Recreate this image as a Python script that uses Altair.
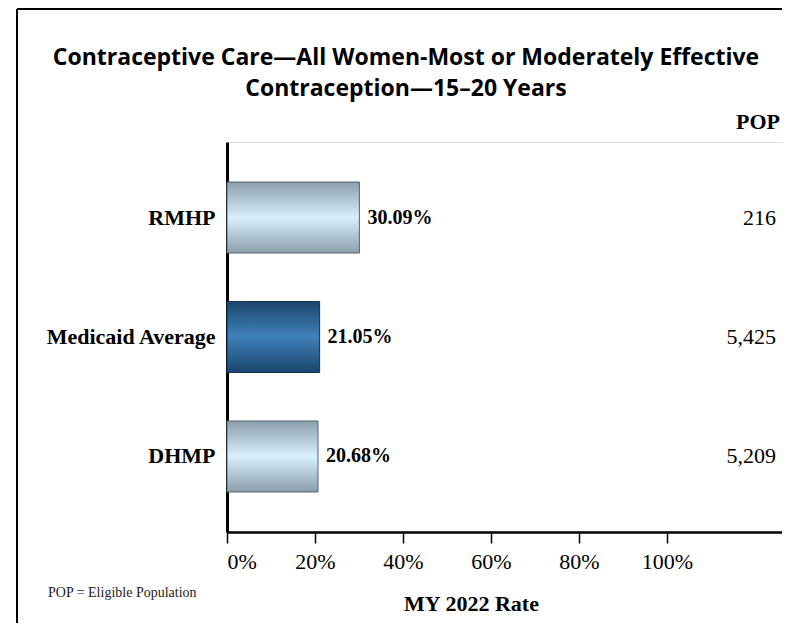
import altair as alt
import pandas as pd

# ---- data ----
categories = ["RMHP", "Medicaid Average", "DHMP"]
rates = [0.3009, 0.2105, 0.2068]
rate_labels = ["30.09%", "21.05%", "20.68%"]
pops = ["216", "5,425", "5,209"]
is_average = [False, True, False]
x_ticks = [0, 0.2, 0.4, 0.6, 0.8, 1.0]
title_lines = ["Contraceptive Care\u2014All Women-Most or Moderately Effective",
               "Contraception\u201415\u201320 Years"]
x_title = "MY 2022 Rate"
pop_header = "POP"
footnote = "POP = Eligible Population"

df = pd.DataFrame({
    "category": categories,
    "rate": rates,
    "label": rate_labels,
    "pop": pops,
    "avg": is_average,
})
one = pd.DataFrame({"k": [0]})

W, H = 555, 390
PX_PER_UNIT = 440
SERIF = "Liberation Serif"

x_scale = alt.Scale(domain=[0, W / PX_PER_UNIT], nice=False, zero=True)
y_scale = alt.Scale(paddingInner=0.406, paddingOuter=0.335)

x_enc = alt.X("rate:Q", scale=x_scale, axis=alt.Axis(
    values=x_ticks, format=".0%", grid=False,
    labelFont=SERIF, labelFontSize=22, labelColor="black", labelPadding=8,
    tickColor="black", tickSize=11, tickWidth=1.5,
    domainColor="black", domainWidth=2.5,
    title=x_title, titleFont=SERIF, titleFontSize=22, titleFontWeight="bold",
    titleColor="black", titleX=244, titleY=71, titleAlign="center",
    titleBaseline="middle", titleAnchor="start"))
y_enc = alt.Y("category:N", sort=categories, scale=y_scale, axis=alt.Axis(
    title=None, grid=False, ticks=False, labelFont=SERIF, labelFontSize=22,
    labelFontWeight="bold", labelColor="black", labelPadding=12,
    domainColor="black", domainWidth=3))

light = alt.Gradient(gradient="linear", x1=0, x2=0, y1=0, y2=1, stops=[
    alt.GradientStop(color="#8b9eab", offset=0),
    alt.GradientStop(color="#d8f0fc", offset=0.5),
    alt.GradientStop(color="#8b9eab", offset=1)])
dark = alt.Gradient(gradient="linear", x1=0, x2=0, y1=0, y2=1, stops=[
    alt.GradientStop(color="#1b466e", offset=0),
    alt.GradientStop(color="#3f80b9", offset=0.5),
    alt.GradientStop(color="#1b466e", offset=1)])

base = alt.Chart(df)

bars_light = base.transform_filter("!datum.avg").mark_bar(
    color=light, stroke="#56646e", strokeWidth=1).encode(x=x_enc, y=y_enc)
bars_dark = base.transform_filter("datum.avg").mark_bar(
    color=dark, stroke="#14324f", strokeWidth=1).encode(x=x_enc, y=y_enc)

value_text = base.mark_text(align="left", baseline="middle", dx=8,
                            font=SERIF, fontSize=20, fontWeight="bold",
                            color="black").encode(
    x="rate:Q", y=alt.Y("category:N", sort=categories), text="label:N")

pop_text = base.mark_text(align="right", baseline="middle", font=SERIF,
                          fontSize=22, color="black").encode(
    x=alt.value(W - 6), y=alt.Y("category:N", sort=categories), text="pop:N")

pop_head = alt.Chart(one).mark_text(align="right", baseline="middle", font=SERIF,
                                    fontSize=22, fontWeight="bold", color="black",
                                    text=pop_header).encode(
    x=alt.value(W - 2), y=alt.value(-20))

foot = alt.Chart(one).mark_text(align="left", baseline="middle", font=SERIF,
                                fontSize=14, color="#222222", text=footnote).encode(
    x=alt.value(-179), y=alt.value(451))

title = alt.Chart(one).mark_text(align="center", baseline="middle", font="Open Sans",
                                 fontSize=23, fontWeight="bold", color="black",
                                 lineHeight=31, text=title_lines).encode(
    x=alt.value(179), y=alt.value(-84.5))

frame_left = alt.Chart(one).mark_rule(color="black", strokeWidth=2).encode(
    x=alt.value(-210), y=alt.value(-133), y2=alt.value(481))
frame_top = alt.Chart(one).mark_rule(color="black", strokeWidth=2).encode(
    x=alt.value(-210), x2=alt.value(W), y=alt.value(-133))

chart = alt.layer(
    bars_light, bars_dark, value_text, pop_text, pop_head, foot, title,
    frame_left, frame_top
).properties(
    width=W, height=H,
    autosize=alt.AutoSizeParams(type="none"),
    padding={"left": 219, "top": 134, "right": 0, "bottom": 91},
).configure_view(stroke="black", strokeWidth=1.5).configure(background="white")

chart.save("out.html", embed_options={"renderer": "svg", "actions": False})
